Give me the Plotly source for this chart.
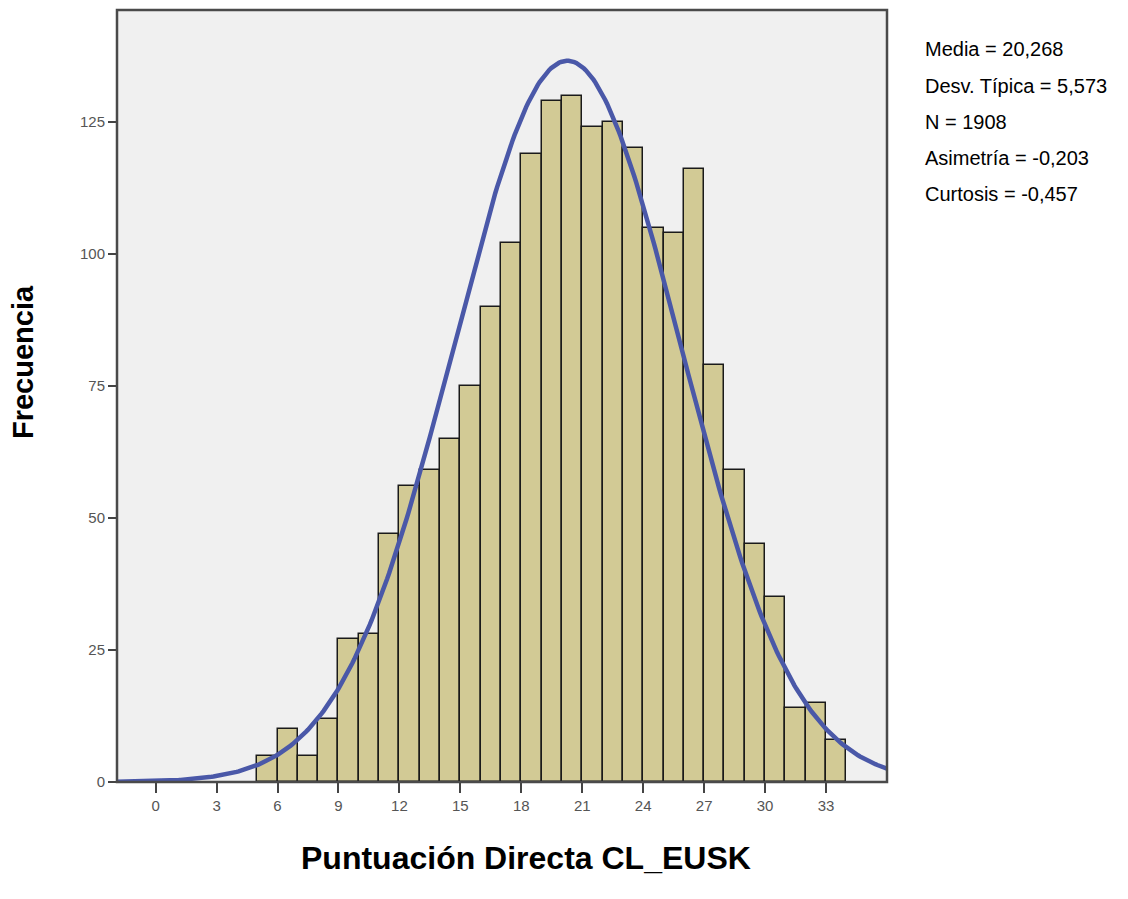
import numpy as np
import plotly.graph_objects as go

# ---- data ----
bin_left = list(range(5, 34))  # scores 5..33, each bin [k, k+1]
frequency = [5, 10, 5, 12, 27, 28, 47, 56, 59, 65, 75, 90, 102, 119, 129,
             130, 124, 125, 120, 105, 104, 116, 79, 59, 45, 35, 14, 15, 8]
x_ticks = [0, 3, 6, 9, 12, 15, 18, 21, 24, 27, 30, 33]
y_ticks = [0, 25, 50, 75, 100, 125]
media = 20.268
desv = 5.573
n_total = 1908
stats_lines = ["Media = 20,268", "Desv. Típica = 5,573", "N = 1908",
               "Asimetría = -0,203", "Curtosis = -0,457"]
x_range = [-1.9, 36.0]
y_range = [0, 146.2]

# fitted normal curve (defined by the stated mean, sd and N)
xc = np.linspace(x_range[0], x_range[1], 400)
yc = n_total * 1.0 / (desv * np.sqrt(2 * np.pi)) * np.exp(-0.5 * ((xc - media) / desv) ** 2)

FONT = "Liberation Sans, Arial, sans-serif"

fig = go.Figure()
fig.add_trace(go.Bar(
    x=bin_left, y=frequency, offset=0, width=1,
    marker=dict(color="#d2ca95", line=dict(color="#1a1a1a", width=1.5)),
    showlegend=False, hoverinfo="x+y"))
fig.add_trace(go.Scatter(
    x=xc, y=yc, mode="lines", line=dict(color="#4a58a8", width=4.5),
    showlegend=False, hoverinfo="skip"))

fig.update_layout(
    width=1128, height=899,
    margin=dict(l=117, r=241, t=10, b=117),
    paper_bgcolor="white", plot_bgcolor="#f0f0f0",
    bargap=0,
    font=dict(family=FONT, size=15, color="#555555"),
    xaxis=dict(range=x_range, tickmode="array", tickvals=x_ticks,
               ticks="outside", ticklen=10, tickwidth=1.5, tickcolor="#444444",
               showgrid=False, zeroline=False, showline=False,
               tickfont=dict(size=15, color="#555555")),
    yaxis=dict(range=y_range, tickmode="array", tickvals=y_ticks,
               ticks="outside", ticklen=8, tickwidth=1.5, tickcolor="#444444",
               showgrid=False, zeroline=False, showline=False,
               tickfont=dict(size=15, color="#555555")),
)

# plot frame
fig.add_shape(type="rect", xref="paper", yref="paper", x0=0, y0=0, x1=1, y1=1,
              line=dict(color="#4a4a4a", width=2.5), fillcolor="rgba(0,0,0,0)", layer="above")

# axis titles
fig.add_annotation(text="<b>Puntuación Directa CL_EUSK</b>", xref="paper", yref="paper",
                   x=0.531, y=-0.0984, xanchor="center", yanchor="middle", showarrow=False,
                   font=dict(family=FONT, size=32, color="black"))
fig.add_annotation(text="<b>Frecuencia</b>", xref="paper", yref="paper",
                   x=(23 - 117) / 770, y=0.544, xanchor="center", yanchor="middle", showarrow=False,
                   textangle=-90, borderpad=0, font=dict(family=FONT, size=29, color="black"))

# stats box
stat_y_px = [49, 86, 122, 158, 194]
for line, ypx in zip(stats_lines, stat_y_px):
    fig.add_annotation(text=line, xref="paper", yref="paper",
                       x=(923 - 117) / 770, y=(782 - ypx) / 772,
                       xanchor="left", yanchor="middle", showarrow=False,
                       font=dict(family=FONT, size=20, color="black"))

# remove the page's default body margin so the figure sits at the window's top-left
fig.write_html("out.html", config={"displayModeBar": False},
               post_script="document.body.style.margin='0';")
